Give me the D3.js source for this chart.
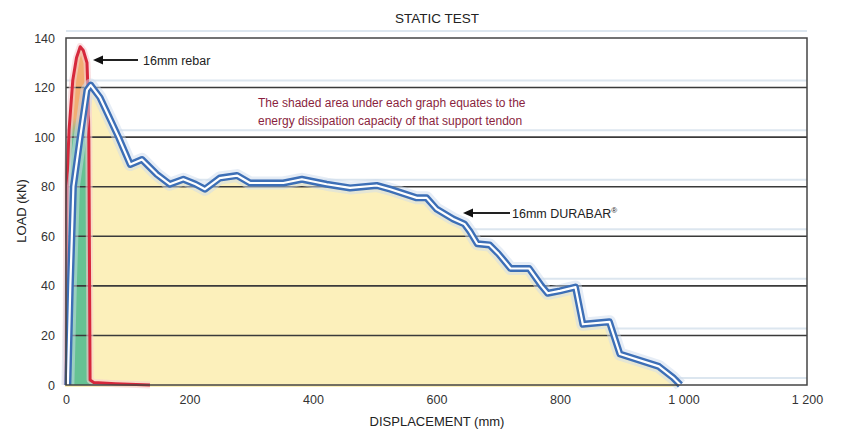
<!DOCTYPE html>
<html>
<head>
<meta charset="utf-8">
<script src="https://cdn.jsdelivr.net/npm/d3@7"></script>
<style>
  html, body { margin: 0; padding: 0; background: #fff; }
  svg { display: block; font-family: "Liberation Sans", Arial, sans-serif; }
</style>
</head>
<body>
<svg id="chart" width="843" height="430"></svg>
<script>
// ---- data ----
const xTicks = [0, 200, 400, 600, 800, 1000, 1200];
const xTickLabels = ["0", "200", "400", "600", "800", "1 000", "1 200"];
const yTicks = [0, 20, 40, 60, 80, 100, 120, 140];

const durabarDisp = [3, 7, 12, 23, 34, 40, 55, 70, 85, 104, 123, 147, 168, 190, 210, 225, 249, 277, 298, 352, 382, 422, 460, 503, 525, 568, 584, 600, 627, 645, 654, 666, 686, 700, 720, 750, 770, 780, 800, 825, 837, 880, 897, 960, 983, 995];
const durabarLoad = [0, 40, 80, 100, 119, 121, 116, 108, 100, 89, 91, 85, 81, 83, 81, 79, 83.5, 84.5, 81.5, 81.5, 83, 81, 79.5, 80.5, 79, 75.5, 75.5, 71, 67, 65, 62, 57, 56.5, 53, 47, 47, 40, 37, 38, 39.5, 24.5, 25.5, 12.5, 7.5, 3, 0];

const rebarDisp = [0, 1, 2, 5, 11, 17, 23, 28, 34, 36, 37, 38, 39, 45, 80, 136];
const rebarLoad = [0, 60, 85, 103, 123, 132, 136.5, 135, 130, 116, 99, 50, 2, 1, 0.5, 0];

const title = "STATIC TEST";
const xLabel = "DISPLACEMENT (mm)";
const yLabel = "LOAD (kN)";
const noteLines = ["The shaded area under each graph equates to the", "energy dissipation capacity of that support tendon"];

// ---- build ----
const svg = d3.select("#chart");
const x = d3.scaleLinear().domain([0, 1200]).range([66, 807]);
const y = d3.scaleLinear().domain([0, 140]).range([385, 38]);

const durabar = durabarDisp.map((d, i) => [d, durabarLoad[i]]);
const rebar = rebarDisp.map((d, i) => [d, rebarLoad[i]]);

const defs = svg.append("defs");
const grad = defs.append("linearGradient").attr("id", "rebarFill")
  .attr("gradientUnits", "userSpaceOnUse")
  .attr("x1", 0).attr("x2", 0).attr("y1", y(0)).attr("y2", y(140));
grad.append("stop").attr("offset", 0).attr("stop-color", "#66c293");
grad.append("stop").attr("offset", 0.71).attr("stop-color", "#66c293");
grad.append("stop").attr("offset", 0.77).attr("stop-color", "#f2ad72");
grad.append("stop").attr("offset", 1).attr("stop-color", "#f2ad72");

// faint decorative lines
svg.append("g").selectAll("line").data(yTicks).join("line")
  .attr("x1", x(0)).attr("x2", x(1200))
  .attr("y1", d => y(d) - 7).attr("y2", d => y(d) - 7)
  .attr("stroke", "#dce6ef").attr("stroke-width", 2);

const area = d3.area().x(d => x(d[0])).y0(y(0)).y1(d => y(d[1]));
const line = d3.line().x(d => x(d[0])).y(d => y(d[1]));

// yellow fill under durabar
svg.append("path").datum(durabar)
  .attr("d", area)
  .attr("transform", "translate(-3,2)")
  .attr("fill", "#fcf0bb");

// rebar fill
svg.append("path").datum(rebar)
  .attr("d", area)
  .attr("fill", "url(#rebarFill)");

// dark gridlines
svg.append("g").selectAll("line").data(yTicks.filter(d => d > 0 && d < 140)).join("line")
  .attr("x1", x(0)).attr("x2", x(1200))
  .attr("y1", d => y(d)).attr("y2", d => y(d))
  .attr("stroke", "#3a3a3a").attr("stroke-width", 1.6);

// rebar line
svg.append("path").datum(rebar).attr("d", line)
  .attr("fill", "none").attr("stroke", "#f6cdd0").attr("stroke-width", 7)
  .attr("stroke-linejoin", "round").attr("opacity", 0.6);
svg.append("path").datum(rebar).attr("d", line)
  .attr("fill", "none").attr("stroke", "#d6283c").attr("stroke-width", 3)
  .attr("stroke-linejoin", "round");

// durabar double line
svg.append("path").datum(durabar).attr("d", line)
  .attr("fill", "none").attr("stroke", "#cddbee").attr("stroke-width", 13)
  .attr("stroke-linejoin", "round").attr("opacity", 0.5);
svg.append("path").datum(durabar).attr("d", line)
  .attr("fill", "none").attr("stroke", "#3d6fb6").attr("stroke-width", 7)
  .attr("stroke-linejoin", "round");
svg.append("path").datum(durabar).attr("d", line)
  .attr("fill", "none").attr("stroke", "#ffffff").attr("stroke-width", 2.2)
  .attr("stroke-linejoin", "round");

// plot border
svg.append("rect")
  .attr("x", x(0)).attr("y", y(140))
  .attr("width", x(1200) - x(0)).attr("height", y(0) - y(140))
  .attr("fill", "none").attr("stroke", "#444").attr("stroke-width", 1.5);

// axes
const xAxis = svg.append("g").attr("transform", `translate(0,${y(0)})`)
  .call(d3.axisBottom(x).tickValues(xTicks).tickFormat((d, i) => xTickLabels[i]).tickSize(0).tickPadding(10));
const yAxis = svg.append("g").attr("transform", `translate(${x(0)},0)`)
  .call(d3.axisLeft(y).tickValues(yTicks).tickSize(0).tickPadding(11));
[xAxis, yAxis].forEach(g => {
  g.select(".domain").remove();
  g.selectAll("text").attr("font-size", 12.5).attr("fill", "#333")
    .attr("font-family", "'Liberation Sans', Arial, sans-serif");
});

// titles
svg.append("text").attr("x", 437).attr("y", 23).attr("text-anchor", "middle")
  .attr("font-size", 13.5).attr("fill", "#222").text(title);
svg.append("text").attr("x", 437).attr("y", 426).attr("text-anchor", "middle")
  .attr("font-size", 13).attr("fill", "#222").text(xLabel);
svg.append("text").attr("transform", "translate(26,211) rotate(-90)").attr("text-anchor", "middle")
  .attr("font-size", 13).attr("fill", "#222").text(yLabel);

// note
svg.append("g").selectAll("text").data(noteLines).join("text")
  .attr("x", 258).attr("y", (d, i) => 107 + i * 18)
  .attr("font-size", 12).attr("fill", "#8a1f40").text(d => d);

// annotations with arrows
function arrow(x1, x2, yy) {
  svg.append("line").attr("x1", x1).attr("x2", x2 + 6).attr("y1", yy).attr("y2", yy)
    .attr("stroke", "#222").attr("stroke-width", 2);
  svg.append("path")
    .attr("d", `M${x2},${yy} L${x2 + 10},${yy - 4.5} L${x2 + 10},${yy + 4.5} Z`)
    .attr("fill", "#111");
}
arrow(138, 93, 60);
svg.append("text").attr("x", 143).attr("y", 65).attr("font-size", 12.5).attr("fill", "#222").text("16mm rebar");
arrow(510, 463, 213);
const dt = svg.append("text").attr("x", 512).attr("y", 218).attr("font-size", 12.5).attr("fill", "#222").text("16mm DURABAR");
dt.append("tspan").attr("font-size", 8).attr("dy", -5).text("®");
</script>
</body>
</html>
